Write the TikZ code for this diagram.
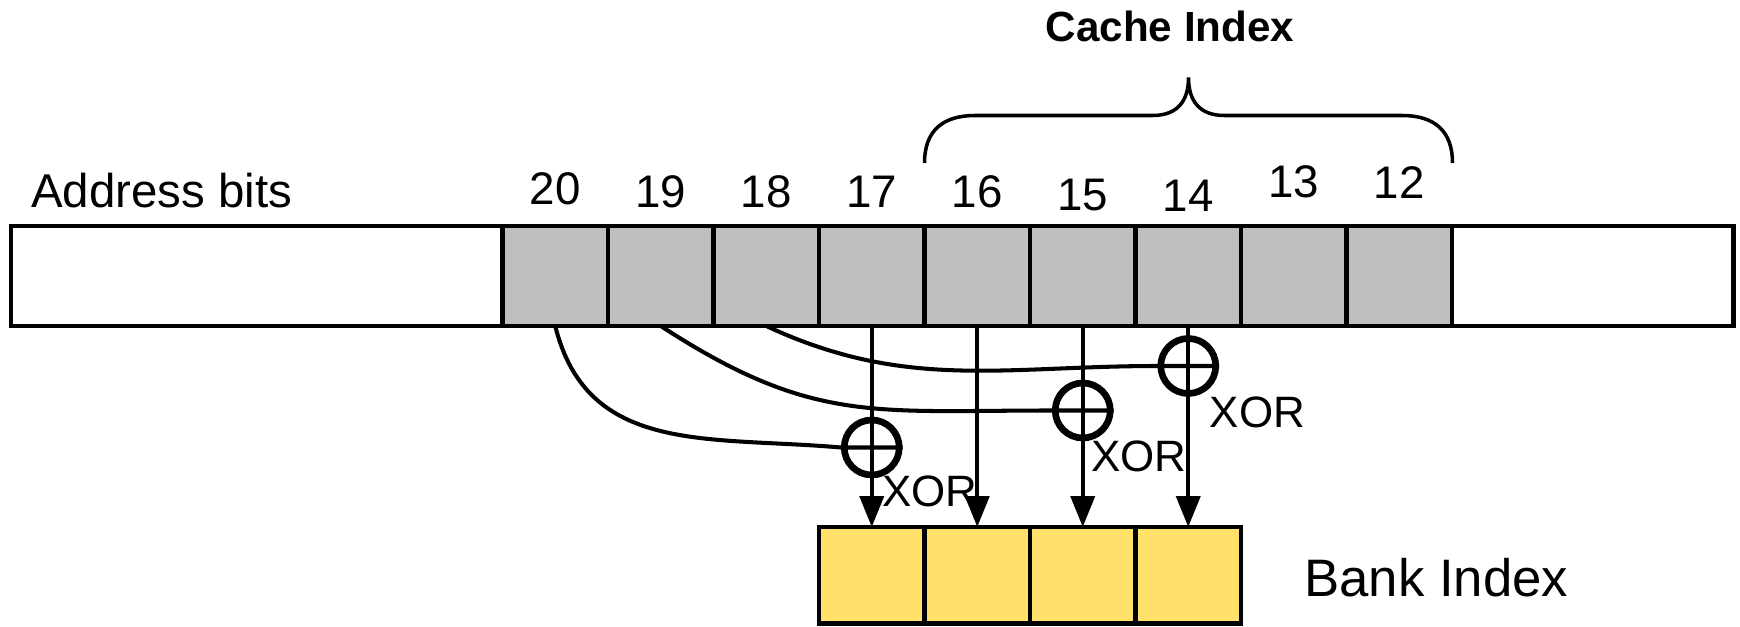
\documentclass[tikz,border=0pt]{standalone}
\usepackage{fontspec}
\setmainfont{Liberation Sans}
\usetikzlibrary{arrows.meta}
\definecolor{bitgray}{HTML}{BFBFBF}
\definecolor{bankyellow}{HTML}{FFE16B}
\tikzset{
  bitcell/.style={draw,fill=bitgray,line width=2.5pt,minimum width=2.11cm,minimum height=2cm,inner sep=0pt,outer sep=0pt},
  bankcell/.style={bitcell,fill=bankyellow,minimum height=1.93cm},
  xorgate/.style={draw,circle,line width=3.8pt,minimum size=1.1cm,inner sep=0pt},
  wire/.style={line width=2.3pt},
  feed/.style={line width=2.3pt,-{Triangle[length=0.62cm,width=0.48cm]}},
  numlabel/.style={anchor=base,font=\fontsize{26}{30}\selectfont},
  xorlabel/.style={anchor=base west,inner sep=0pt,font=\fontsize{25}{30}\selectfont},
}
\begin{document}
\begin{tikzpicture}
  \useasboundingbox (0,0) rectangle (34.8,12.52);
  \draw[line width=2.5pt] (0.22,6) rectangle (34.67,8);
  \foreach \b [count=\i from 0] in {20,19,...,12}
    \node[bitcell] (b\b) at ({11.105+2.11*\i},7) {};
  \foreach \b/\y [count=\i from 0] in {20/8.42,19/8.37,18/8.37,17/8.37,16/8.37,15/8.3,14/8.28,13/8.56,12/8.54}
    \node[numlabel] (l\b) at ({11.105+2.11*\i},\y) {\b};
  \node[anchor=base west,inner sep=0pt,font=\fontsize{27}{32}\selectfont] (addr) at (0.62,8.37) {Address bits};

  \draw[line width=2pt] (18.49,9.26) .. controls (18.49,9.9) and (18.85,10.21) .. (19.5,10.21)
    -- (23.05,10.21) .. controls (23.55,10.21) and (23.77,10.5) .. (23.77,10.97)
    .. controls (23.77,10.5) and (23.99,10.21) .. (24.49,10.21)
    -- (28.04,10.21) .. controls (28.69,10.21) and (29.05,9.9) .. (29.05,9.26);
  \node[anchor=base,font=\bfseries\fontsize{24}{28}\selectfont] (cidx) at (23.4,11.68) {Cache Index};

  \foreach \b [count=\j from 0] in {17,16,15,14}
    \node[bankcell] (k\b) at ({17.435+2.11*\j},1.015) {};
  \node[anchor=base west,inner sep=0pt,font=\fontsize{30}{34}\selectfont] (bidx) at (26.08,0.6) {Bank Index};

  \node[xorgate] (x17) at (17.435,3.57) {};
  \node[xorgate] (x15) at (21.655,4.31) {};
  \node[xorgate] (x14) at (23.765,5.2) {};

  \foreach \b in {17,16,15,14}
    \draw[feed] (b\b.south) -- (k\b.north);

  \draw[wire] (b20.south) to[out=-76,in=175,looseness=1.1] (x17.west) -- (x17.east);
  \draw[wire] (b19.south) to[out=-33,in=180,looseness=1.15] (x15.west) -- (x15.east);
  \draw[wire] (b18.south) to[out=-25,in=180] (x14.west) -- (x14.east);

  \node[xorlabel] (t17) at (17.64,2.38) {XOR};
  \node[xorlabel] (t15) at (21.82,3.09) {XOR};
  \node[xorlabel] (t14) at (24.19,3.98) {XOR};
\end{tikzpicture}
\end{document}
